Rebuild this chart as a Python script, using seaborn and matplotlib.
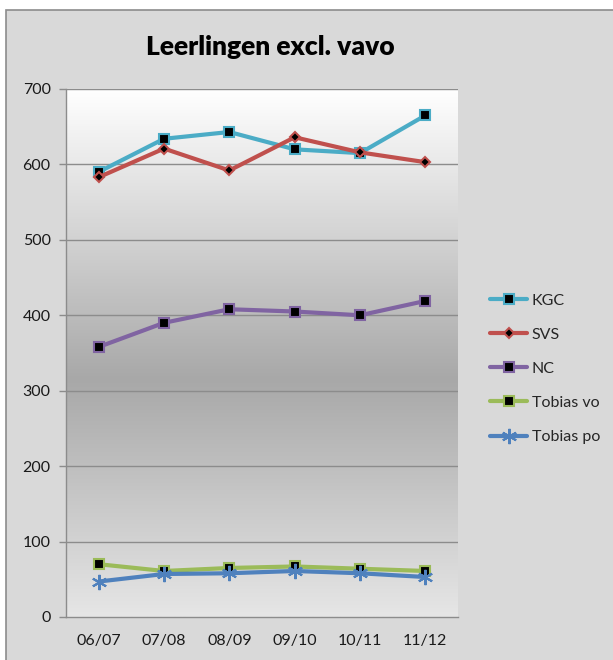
import numpy as np
import pandas as pd
import matplotlib
matplotlib.use("Agg")
import matplotlib.pyplot as plt
from matplotlib.colors import LinearSegmentedColormap
from matplotlib.patches import Rectangle
import seaborn as sns

# data
years = ["06/07", "07/08", "08/09", "09/10", "10/11", "11/12"]
kgc = [590, 634, 643, 620, 615, 665]
svs = [583, 621, 592, 636, 616, 603]
nc = [358, 390, 408, 405, 400, 419]
tobias_vo = [70, 61, 65, 67, 64, 61]
tobias_po = [47, 57, 58, 61, 58, 53]

series_names = ["KGC", "SVS", "NC", "Tobias vo", "Tobias po"]
series_values = [kgc, svs, nc, tobias_vo, tobias_po]

df = pd.DataFrame({
    "jaar": years * len(series_names),
    "school": np.repeat(series_names, len(years)),
    "leerlingen": np.concatenate(series_values),
})

sns.set_theme(style="white")
plt.rcParams["font.family"] = ["Lato", "DejaVu Sans"]

fig = plt.figure(figsize=(6.13, 6.6), dpi=100)
fig.patch.set_facecolor("white")
# grey chart area with border, like the excel frame
fig.patches.append(Rectangle((6 / 613, -0.01), 1.0, 1 - 10 / 660 + 0.01, transform=fig.transFigure,
                             facecolor="#d9d9d9", edgecolor="#8c8c8c", linewidth=1.2, zorder=-10))

ax = fig.add_axes([66 / 613, 43 / 660, 392 / 613, 528 / 660])

# gradient background of the plot area
cmap = LinearSegmentedColormap.from_list("bg", [(0, "#e6e6e6"), (0.45, "#a8a8a8"), (1.0, "#ffffff")])
grad = np.linspace(0, 1, 256).reshape(-1, 1)
ax.imshow(grad, aspect="auto", cmap=cmap, extent=[0, 1, 0, 1], origin="lower",
          transform=ax.transAxes, zorder=0)

styles = {
    "KGC": dict(color="#4bacc6", marker="s", ms=7),
    "SVS": dict(color="#c0504d", marker="D", ms=5),
    "NC": dict(color="#8064a2", marker="s", ms=7),
    "Tobias vo": dict(color="#9bbb59", marker="s", ms=7),
    "Tobias po": dict(color="#4f81bd", marker=(6, 2, 0), ms=11),
}

handles = []
for name in series_names:
    st = styles[name]
    sub = df[df["school"] == name]
    if name == "Tobias po":
        sns.lineplot(data=sub, x="jaar", y="leerlingen", ax=ax, color=st["color"], lw=3,
                     marker=st["marker"], markersize=st["ms"], markeredgecolor=st["color"],
                     markeredgewidth=1.5, sort=False, zorder=3)
    else:
        sns.lineplot(data=sub, x="jaar", y="leerlingen", ax=ax, color=st["color"], lw=3,
                     marker=st["marker"], markersize=st["ms"], markerfacecolor="black",
                     markeredgecolor=st["color"], markeredgewidth=1.5, sort=False, zorder=3)
    handles.append(ax.lines[-1])

ax.set_xlim(-0.5, len(years) - 0.5)
ax.set_ylim(0, 700)
ax.set_yticks(range(0, 701, 100))
ax.set_xlabel("")
ax.set_ylabel("")
for y in range(100, 701, 100):
    ax.axhline(y, color="#8c8c8c", lw=1, zorder=1)

# ticks between categories like excel
ax.set_xticks(range(len(years)))
ax.set_xticklabels(years, fontsize=11.5, color="#1a1a1a")
ax.set_xticks(np.arange(-0.5, len(years), 1), minor=True)
ax.tick_params(axis="x", which="major", length=0, pad=12)
ax.tick_params(axis="x", which="minor", length=5, color="#8c8c8c", width=1, direction="out")
ax.tick_params(axis="y", length=5, color="#8c8c8c", width=1, direction="out", labelsize=11.5,
               labelcolor="#1a1a1a", pad=6)
ax.xaxis.set_tick_params(bottom=True)
ax.yaxis.set_tick_params(left=True)

for side in ["top", "right"]:
    ax.spines[side].set_visible(False)
for side in ["left", "bottom"]:
    ax.spines[side].set_color("#8c8c8c")
    ax.spines[side].set_linewidth(1)
    ax.spines[side].set_zorder(4)

fig.text(270 / 613, 1 - 47 / 660, "Leerlingen excl. vavo", ha="center", va="center",
         fontsize=19, fontweight="heavy", color="black")

leg = fig.legend(handles, series_names, loc="upper left", bbox_to_anchor=(476 / 613, 1 - 279 / 660),
                 frameon=False, fontsize=11.5, labelspacing=1.25, handlelength=2.3, handletextpad=0.3)

fig.savefig("out.png", dpi=100)
